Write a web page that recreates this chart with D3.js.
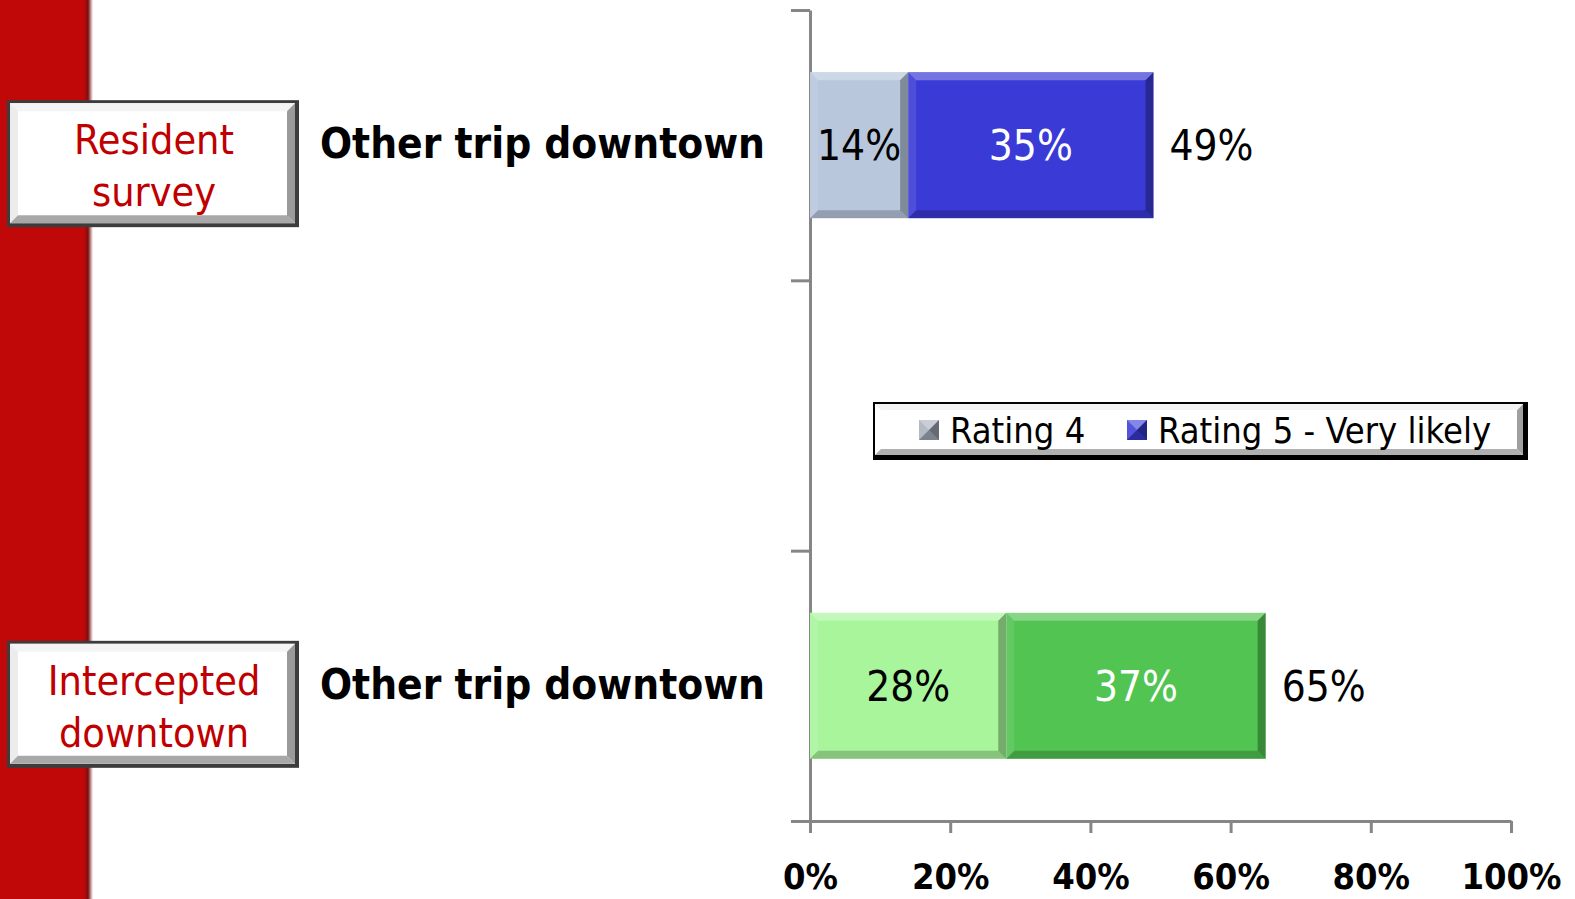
<!DOCTYPE html>
<html>
<head>
<meta charset="utf-8">
<script src="https://cdn.jsdelivr.net/npm/d3@7/dist/d3.min.js"></script>
<style>
  html, body { margin: 0; padding: 0; background: #ffffff; }
  svg { display: block; }
</style>
</head>
<body>
<svg id="chart" width="1575" height="899"></svg>
<script>
// ---- data ----
const groups = ["Resident survey", "Intercepted downtown"];
const groupLines = [["Resident", "survey"], ["Intercepted", "downtown"]];
const categoryLabels = ["Other trip downtown", "Other trip downtown"];
const rowSlots = ["Resident survey", "gap", "Intercepted downtown"];
const seriesNames = ["Rating 4", "Rating 5 - Very likely"];
const rating4 = [14, 28];
const rating5 = [35, 37];
const totals = [49, 65];
const xTicks = [0, 20, 40, 60, 80, 100];
const rowColors = [
  ["#b8c7dc", "#3a3ad6"],   // resident survey
  ["#a8f59c", "#52c452"]    // intercepted downtown
];
const legendColors = ["#a7b0bc", "#3a3ad6"];

// ---- layout ----
const svg = d3.select("#chart");
const plot = { left: 810, right: 1511, top: 10, bottom: 821 };
const FONT = '"DejaVu Sans Condensed", "DejaVu Sans", sans-serif';

const x = d3.scaleLinear().domain([0, 100]).range([plot.left, plot.right]);
const y = d3.scaleBand().domain(rowSlots).range([plot.top, plot.bottom])
  .paddingInner(0.46).paddingOuter(0.23);
const slotEdge = d3.scaleLinear().domain([0, rowSlots.length]).range([plot.top, plot.bottom]);

const defs = svg.append("defs");
const edgeGrad = defs.append("linearGradient").attr("id", "stripEdge")
  .attr("x1", 0).attr("x2", 1).attr("y1", 0).attr("y2", 0);
edgeGrad.append("stop").attr("offset", "0%").attr("stop-color", "#c00808");
edgeGrad.append("stop").attr("offset", "45%").attr("stop-color", "#7a1010");
edgeGrad.append("stop").attr("offset", "100%").attr("stop-color", "#ffffff");

// red side strip
svg.append("rect").attr("x", 0).attr("y", 0).attr("width", 84).attr("height", 899).attr("fill", "#c00808");
svg.append("rect").attr("x", 84).attr("y", 0).attr("width", 9).attr("height", 899).attr("fill", "url(#stripEdge)");

// bevel helper: light top/left edges, dark bottom/right edges
function bevel(g, x0, y0, x1, y1, b, k) {
  k = k || 1;
  const faces = [
    { pts: [[x0, y0], [x1, y0], [x1 - b, y0 + b], [x0 + b, y0 + b]], fill: "#ffffff", op: 0.30 * k },
    { pts: [[x0, y0], [x0 + b, y0 + b], [x0 + b, y1 - b], [x0, y1]], fill: "#ffffff", op: 0.10 * k },
    { pts: [[x0, y1], [x0 + b, y1 - b], [x1 - b, y1 - b], [x1, y1]], fill: "#000000", op: 0.20 * k },
    { pts: [[x1, y0], [x1, y1], [x1 - b, y1 - b], [x1 - b, y0 + b]], fill: "#000000", op: 0.30 * k }
  ];
  g.selectAll(null).data(faces).join("polygon")
    .attr("points", d => d.pts.map(p => p.join(",")).join(" "))
    .attr("fill", d => d.fill).attr("fill-opacity", d => d.op);
}

// framed label box with a raised look
function framedBox(g, x0, y0, w, h) {
  g.append("rect").attr("x", x0).attr("y", y0).attr("width", w).attr("height", h).attr("fill", "#3c3c3c");
  g.append("rect").attr("x", x0 + 3).attr("y", y0 + 3).attr("width", w - 7).attr("height", h - 7).attr("fill", "#ffffff");
  const ix0 = x0 + 3, iy0 = y0 + 3, ix1 = x0 + w - 4, iy1 = y0 + h - 4, b = 8;
  const faces = [
    { pts: [[ix0, iy0], [ix1, iy0], [ix1 - b, iy0 + b], [ix0 + b, iy0 + b]], fill: "#f4f4f4" },
    { pts: [[ix0, iy0], [ix0 + b, iy0 + b], [ix0 + b, iy1 - b], [ix0, iy1]], fill: "#ececec" },
    { pts: [[ix0, iy1], [ix0 + b, iy1 - b], [ix1 - b, iy1 - b], [ix1, iy1]], fill: "#a8a8a8" },
    { pts: [[ix1, iy0], [ix1, iy1], [ix1 - b, iy1 - b], [ix1 - b, iy0 + b]], fill: "#9a9a9a" }
  ];
  g.selectAll(null).data(faces).join("polygon")
    .attr("points", d => d.pts.map(p => p.join(",")).join(" "))
    .attr("fill", d => d.fill);
}

// ---- axes ----
const yAxis = d3.axisLeft(slotEdge).tickValues(d3.range(rowSlots.length + 1))
  .tickFormat("").tickSizeInner(19).tickSizeOuter(0);
const yAxisG = svg.append("g").attr("transform", `translate(${plot.left},0)`).call(yAxis);
yAxisG.select(".domain").attr("stroke", "#868686").attr("stroke-width", 3);
yAxisG.selectAll(".tick line").attr("stroke", "#868686").attr("stroke-width", 3);

const xAxis = d3.axisBottom(x).tickValues(xTicks).tickFormat(d => d + "%")
  .tickSizeInner(12).tickSizeOuter(0).tickPadding(48);
const xAxisG = svg.append("g").attr("transform", `translate(0,${plot.bottom})`).call(xAxis);
xAxisG.select(".domain").attr("stroke", "#868686").attr("stroke-width", 3);
xAxisG.selectAll(".tick line").attr("stroke", "#868686").attr("stroke-width", 3);
xAxisG.selectAll(".tick text")
  .attr("font-family", FONT).attr("font-size", 36).attr("font-weight", "bold")
  .attr("fill", "#000000").attr("dy", "0.22em");

// ---- bars ----
const rows = groups.map((g, i) => ({ group: g, slot: g, values: [rating4[i], rating5[i]], total: totals[i], idx: i }));

rows.forEach(row => {
  const yc = y(row.slot);
  const h = y.bandwidth();
  const mid = yc + h / 2;
  let acc = 0;
  row.values.forEach((v, s) => {
    const x0 = x(acc), x1 = x(acc + v);
    const g = svg.append("g");
    g.append("rect").attr("x", x0).attr("y", yc).attr("width", x1 - x0).attr("height", h)
      .attr("fill", rowColors[row.idx][s]);
    bevel(g, x0, yc, x1, yc + h, 8);
    g.append("text").attr("x", (x0 + x1) / 2).attr("y", mid).attr("dy", "0.36em")
      .attr("text-anchor", "middle").attr("font-family", FONT).attr("font-size", 42)
      .attr("fill", s === 0 ? "#000000" : "#ffffff").text(v + "%");
    acc += v;
  });
  // total to the right of the stack
  svg.append("text").attr("x", x(row.total) + 16).attr("y", mid).attr("dy", "0.36em")
    .attr("font-family", FONT).attr("font-size", 42).attr("fill", "#000000").text(row.total + "%");

  // category label
  svg.append("text").attr("x", 765).attr("y", mid - 2).attr("dy", "0.36em")
    .attr("text-anchor", "end").attr("font-family", FONT).attr("font-size", 42)
    .attr("font-weight", "bold").attr("fill", "#000000").text(categoryLabels[row.idx]);

  // group box
  const bx = svg.append("g");
  const by = mid - 45;
  framedBox(bx, 7, by, 292, 127);
  bx.selectAll(null).data(groupLines[row.idx]).join("text")
    .attr("x", 154).attr("y", (d, i) => by + 54 + i * 52)
    .attr("text-anchor", "middle").attr("font-family", FONT).attr("font-size", 41)
    .attr("fill", "#c00000").text(d => d);
});

// ---- legend ----
const lg = svg.append("g");
const L = { x: 873, y: 402, w: 655, h: 58 };
lg.append("rect").attr("x", L.x).attr("y", L.y).attr("width", L.w).attr("height", L.h).attr("fill", "#000000");
lg.append("rect").attr("x", L.x + 2).attr("y", L.y + 2).attr("width", L.w - 7).attr("height", L.h - 7).attr("fill", "#ffffff");
(function () {
  const ix0 = L.x + 2, iy0 = L.y + 2, ix1 = L.x + L.w - 5, iy1 = L.y + L.h - 5, b = 6;
  const faces = [
    { pts: [[ix0, iy1], [ix0 + b, iy1 - b], [ix1 - b, iy1 - b], [ix1, iy1]], fill: "#b0b0b0" },
    { pts: [[ix1, iy0], [ix1, iy1], [ix1 - b, iy1 - b], [ix1 - b, iy0 + b]], fill: "#a0a0a0" },
    { pts: [[ix0, iy0], [ix1, iy0], [ix1 - b, iy0 + b], [ix0 + b, iy0 + b]], fill: "#f2f2f2" }
  ];
  lg.selectAll(null).data(faces).join("polygon")
    .attr("points", d => d.pts.map(p => p.join(",")).join(" ")).attr("fill", d => d.fill);
})();
const legendX = [919, 1127];
seriesNames.forEach((name, i) => {
  const mx = legendX[i], my = 420;
  const g = lg.append("g");
  g.append("rect").attr("x", mx).attr("y", my).attr("width", 20).attr("height", 20).attr("fill", legendColors[i]);
  bevel(g, mx, my, mx + 20, my + 20, 10, 1.3);
  g.append("text").attr("x", mx + 31).attr("y", my + 10).attr("dy", "0.36em")
    .attr("font-family", FONT).attr("font-size", 36).attr("fill", "#000000").text(name);
});
</script>
</body>
</html>
